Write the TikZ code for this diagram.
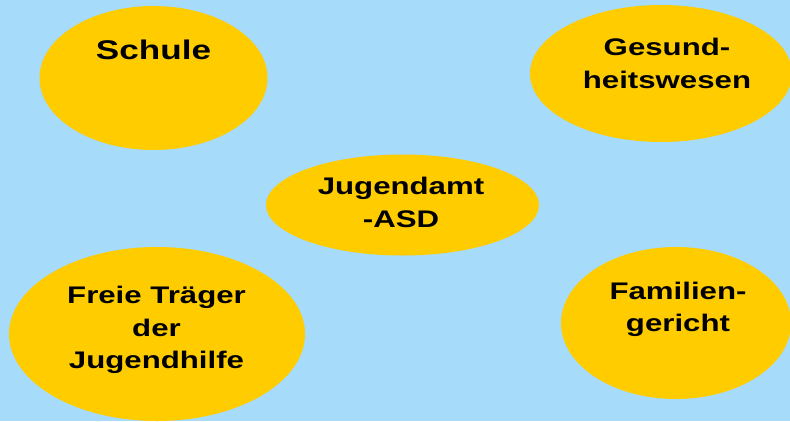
\documentclass[tikz,border=0pt]{standalone}
\usepackage{fontspec}
\usetikzlibrary{shapes.geometric}
\newfontfamily\lblfont{Liberation Sans}[FakeStretch=1.3]
\definecolor{skyblue}{HTML}{A6DBFA}
\definecolor{gold}{HTML}{FFCC00}
\tikzset{
  blob/.style={ellipse, fill=gold, draw=none, inner sep=0pt},
  lbl/.style={anchor=north, inner sep=0pt, align=center, text=black,
    font=\lblfont\bfseries\fontsize{24}{32.5}\selectfont},
  biglbl/.style={anchor=base, inner sep=0pt, text=black,
    font=\lblfont\bfseries\fontsize{27}{32}\selectfont}
}
\begin{document}
\begin{tikzpicture}[x=1pt, y=-1pt]
  \useasboundingbox (0,0) rectangle (790,421);
  \clip (0,0) rectangle (790,421);
  \fill[skyblue] (0,0) rectangle (790,421);

  % the five partners
  \node[blob, minimum width=228pt, minimum height=144pt] (schule) at (153.5,78) {};
  \node[blob, minimum width=262pt, minimum height=137pt] (gesund) at (661,73.5) {};
  \node[blob, minimum width=273pt, minimum height=101pt] (jugendamt) at (402.5,205) {};
  \node[blob, minimum width=296pt, minimum height=174pt] (traeger) at (157,334) {};
  \node[blob, minimum width=230pt, minimum height=152pt] (gericht) at (676,323) {};

  % labels
  \node[biglbl] (schuleT) at (153.5,59.5) {Schule};
  \node[lbl] (gesundT) at (667,38) {Gesund-\\heitswesen};
  \node[lbl] (jugendamtT) at (401,177) {Jugendamt\\-ASD};
  \node[lbl] (traegerT) at (156.5,286) {Freie Träger\\der\\Jugendhilfe};
  \node[lbl] (gerichtT) at (678,281.5) {Familien-\\gericht};
\end{tikzpicture}
\end{document}
